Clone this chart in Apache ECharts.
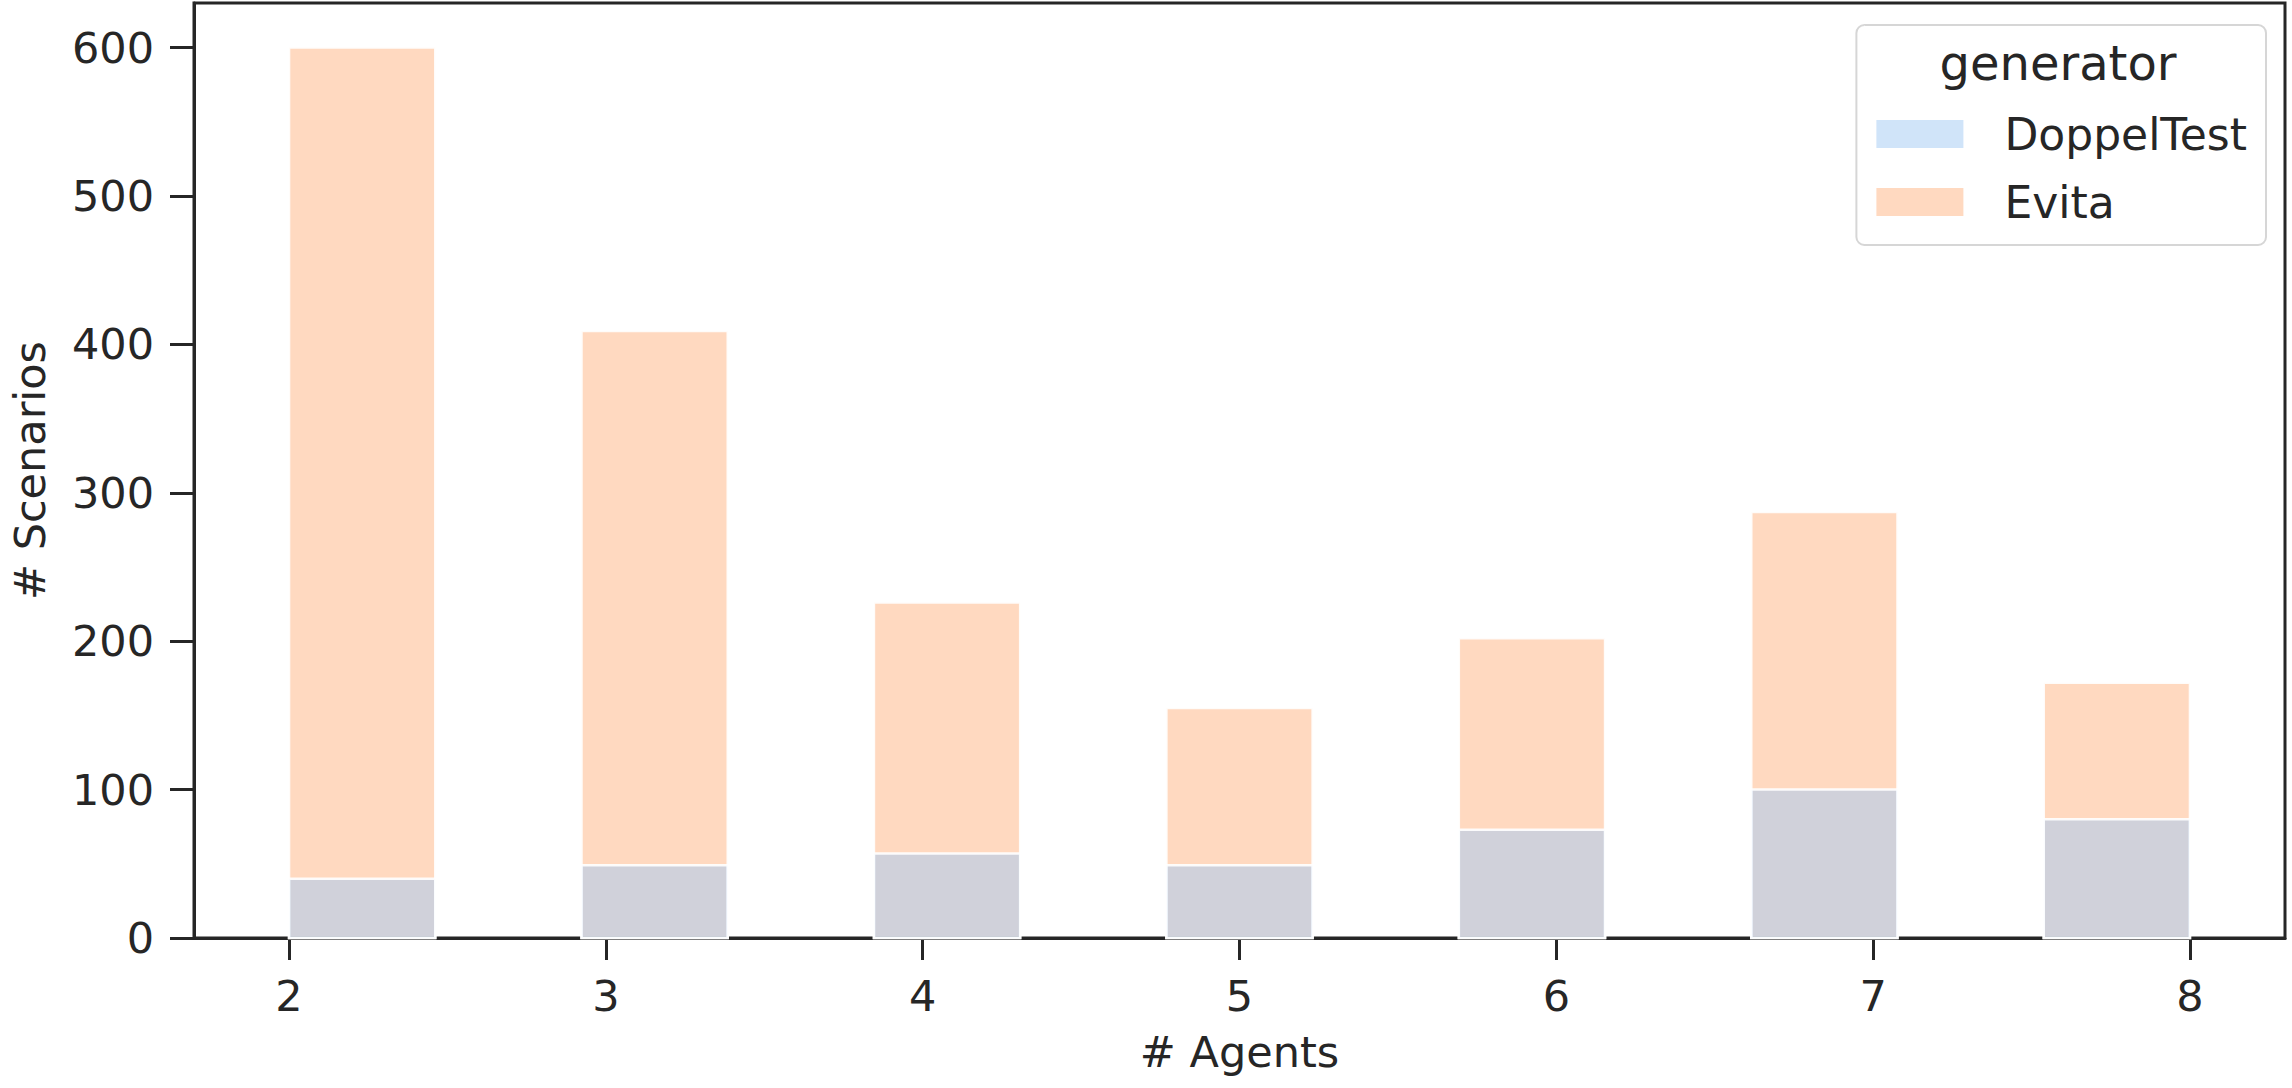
<!DOCTYPE html>
<html>
<head>
<meta charset="utf-8">
<script src="https://cdn.jsdelivr.net/npm/echarts@6/dist/echarts.min.js"></script>
<style>
    html, body { margin: 0; padding: 0; background: #fff; }
    #chart { width: 2292px; height: 1088px; }
</style>
</head>
<body>
<div id="chart"></div>
<script>
// counts per number of agents
const agents = [2, 3, 4, 5, 6, 7, 8];
const doppelTest = [40, 49, 57, 49, 73, 100, 80];
const evita = [600, 409, 226, 155, 202, 287, 172];
const xTicks = [2, 3, 4, 5, 6, 7, 8];
const yTicks = [0, 100, 200, 300, 400, 500, 600];

// histogram binning: 13 equal bins across [2, 8]
const binLo = 2, binHi = 8, binCount = 13;
const binW = (binHi - binLo) / binCount;

function toBins(counts) {
    return agents.map((a, i) => {
        // bin that the integer value falls into (last edge belongs to last bin)
        const k = Math.min(Math.floor((a - binLo) / binW + 1e-9), binCount - 1);
        const left = binLo + k * binW;
        return [left, left + binW, counts[i]];
    });
}

const ink = '#262626';
const font = 'DejaVu Sans';

function barRenderer(fill) {
    return function (params, api) {
        const p0 = api.coord([api.value(0), api.value(2)]);
        const p1 = api.coord([api.value(1), 0]);
        return {
            type: 'rect',
            shape: { x: p0[0], y: p0[1], width: p1[0] - p0[0], height: p1[1] - p0[1] },
            style: { fill: fill, stroke: 'rgba(255,255,255,0.9)', lineWidth: 2.5 }
        };
    };
}

const orange = 'rgba(255,180,130,0.5)';
const blue = 'rgba(161,201,244,0.5)';

var myChart = echarts.init(document.getElementById('chart'), null, { renderer: 'svg' });
var option = {
    animation: false,
    backgroundColor: '#fff',
    textStyle: { fontFamily: font, color: ink },
    grid: {
        left: 194, right: 7, top: 3, bottom: 150,
        show: true, borderColor: ink, borderWidth: 3, backgroundColor: 'transparent'
    },
    legend: {
        orient: 'vertical',
        right: 26,
        top: 25,
        padding: [84, 19, 18, 20],
        data: ['DoppelTest', 'Evita'],
        icon: 'rect',
        itemWidth: 87,
        itemHeight: 28,
        itemGap: 18,
        itemStyle: { borderWidth: 0 },
        backgroundColor: 'rgba(255,255,255,0.8)',
        borderColor: '#d6d6d6',
        borderWidth: 2,
        borderRadius: 8,
        textStyle: {
            fontFamily: font, fontSize: 44, color: ink, lineHeight: 50,
            padding: [0, 0, 0, 36]
        }
    },
    graphic: [{
        type: 'text',
        x: 2058,
        y: 63,
        style: {
            text: 'generator',
            font: '48px "DejaVu Sans"',
            fill: ink,
            textAlign: 'center',
            textVerticalAlign: 'middle'
        },
        z: 100
    }],
    xAxis: {
        type: 'value',
        min: 1.7,
        max: 8.3,
        name: '# Agents',
        nameLocation: 'middle',
        nameGap: 92,
        nameTextStyle: { fontFamily: font, fontSize: 43, color: ink },
        splitLine: { show: false },
        axisLine: { show: true, lineStyle: { color: ink, width: 3 } },
        axisTick: { show: true, customValues: xTicks, length: 22, lineStyle: { color: ink, width: 3 } },
        axisLabel: { customValues: xTicks, margin: 36, fontFamily: font, fontSize: 43, color: ink }
    },
    yAxis: {
        type: 'value',
        min: 0,
        max: 630,
        name: '# Scenarios',
        nameLocation: 'middle',
        nameGap: 143,
        nameTextStyle: { fontFamily: font, fontSize: 43, color: ink },
        splitLine: { show: false },
        axisLine: { show: true, lineStyle: { color: ink, width: 3 } },
        axisTick: { show: true, customValues: yTicks, length: 24, lineStyle: { color: ink, width: 3 } },
        axisLabel: { customValues: yTicks, margin: 40, fontFamily: font, fontSize: 43, color: ink }
    },
    series: [
        {
            name: 'Evita',
            type: 'custom',
            renderItem: barRenderer(orange),
            itemStyle: { color: orange },
            encode: { x: [0, 1], y: 2 },
            data: toBins(evita),
            z: 2
        },
        {
            name: 'DoppelTest',
            type: 'custom',
            renderItem: barRenderer(blue),
            itemStyle: { color: blue },
            encode: { x: [0, 1], y: 2 },
            data: toBins(doppelTest),
            z: 3
        }
    ]
};
myChart.setOption(option);
window.addEventListener('resize', () => {
    myChart.resize();
});
</script>
</body>
</html>
